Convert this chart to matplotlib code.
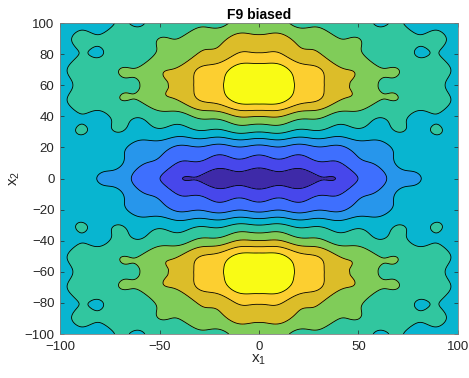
import numpy as np
import matplotlib.pyplot as plt
from matplotlib.colors import ListedColormap, BoundaryNorm

# surface parameters for the biased F9 landscape
base_level = 4.75
peak_x2 = [60, -60]
peak_height = 5.63
peak_width_x1 = 51
peak_power_x1 = 1.5
peak_width_inner = 26      # towards x2 = 0
peak_width_outer = 35      # towards the border
peak_power_outer = 1.5
valley_depth = 4.1
valley_width_x1 = 65
valley_power_x1 = 3.5
valley_width_x2 = 27
valley_power_x2 = 1.8
ripple_amp = 0.15
ripple_period = 20
edge_drop = 0.3
edge_power = 12

# contour levels and parula(10) colours
levels = [-1, 1, 2, 3, 4, 5, 6, 7, 8, 9, 12]
band_colors = ['#3e2aa8', '#4747eb', '#3e6ffe', '#2796eb', '#08b5d0',
               '#31c69f', '#80cc59', '#dcbd29', '#fccf30', '#f9fb15']

x1 = np.linspace(-100, 100, 401)
x2 = np.linspace(-100, 100, 401)
X1, X2 = np.meshgrid(x1, x2)

Z = np.full_like(X1, base_level)
for c in peak_x2:
    d = X2 - c
    inner = d * np.sign(c) < 0
    prof = np.where(inner,
                    np.exp(-(d / peak_width_inner) ** 2),
                    np.exp(-(np.abs(d) / peak_width_outer) ** peak_power_outer))
    Z += (peak_height * np.exp(-(np.abs(X1) / peak_width_x1) ** peak_power_x1)
          * prof)
Z -= (valley_depth * np.exp(-(np.abs(X1) / valley_width_x1) ** valley_power_x1)
      * np.exp(-(np.abs(X2) / valley_width_x2) ** valley_power_x2))
# rastrigin-like ripple
Z -= ripple_amp * (np.cos(2 * np.pi * X1 / ripple_period)
                   + np.cos(2 * np.pi * X2 / ripple_period))
Z -= edge_drop * (np.abs(X1) / 100) ** edge_power

plt.rcParams['font.family'] = ['Liberation Sans', 'DejaVu Sans']
fig = plt.figure(figsize=(4.69, 3.78), dpi=100)
ax = fig.add_axes([0.128, 0.1164, 0.8485, 0.8226])

cmap = ListedColormap(band_colors)
norm = BoundaryNorm(levels, cmap.N)
ax.contourf(X1, X2, Z, levels=levels, cmap=cmap, norm=norm)
ax.contour(X1, X2, Z, levels=levels[1:-1], colors='k', linewidths=0.6)

ax.set_xlim(-100, 100)
ax.set_ylim(-100, 100)
ax.set_xticks([-100, -50, 0, 50, 100])
ax.set_yticks(np.arange(-100, 101, 20))
ax.tick_params(direction='in', length=3, width=0.5, top=True, right=True,
               labelsize=9.5, colors='#262626')
ax.tick_params(axis='x', pad=5)
ax.tick_params(axis='y', pad=4)
for s in ax.spines.values():
    s.set_linewidth(0.6)
    s.set_color('#7f7f7f')

ax.set_title('F9 biased', fontsize=10, fontweight='bold', pad=3)
ax.set_xlabel('$\\mathregular{x_1}$', fontsize=11, color='#262626', labelpad=0)
ax.set_ylabel('$\\mathregular{x_2}$', fontsize=11, color='#262626', labelpad=2)

fig.savefig('out.png', dpi=100)
